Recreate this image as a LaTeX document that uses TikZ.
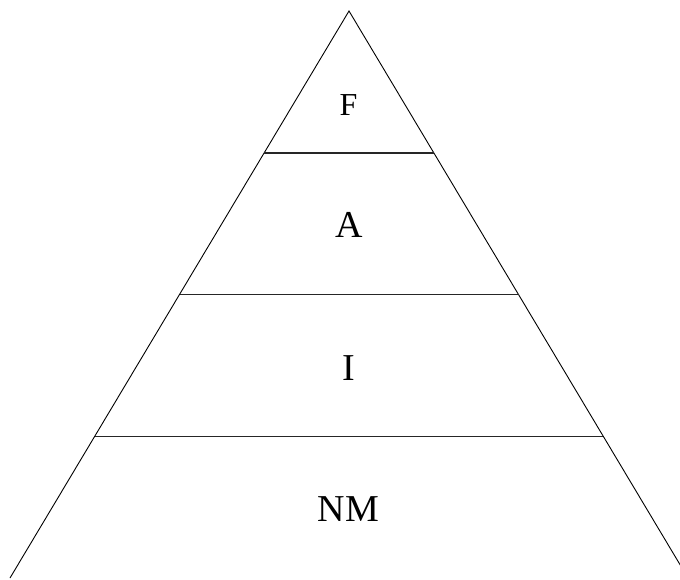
\documentclass[tikz,border=0pt]{standalone}
\usepackage{fontspec}
\setmainfont{Liberation Serif}
\usepackage{tikz}
\usetikzlibrary{calc}
\tikzset{
  pyside/.style={draw=black, line width=0.9pt},
  pylevel/.style={draw=black!85, line width=1.5pt},
  pylabel/.style={inner sep=0pt, font=\fontsize{38}{40}\selectfont},
  pysmall/.style={inner sep=0pt, font=\fontsize{32}{34}\selectfont}
}
\begin{document}
\begin{tikzpicture}[x=1pt, y=-1pt]
  \useasboundingbox (0,0) rectangle (680,579);
  \clip (0,0) rectangle (680,579);
  \coordinate (apex) at (349,11);
  \coordinate (bl) at (10,578);
  \coordinate (br) at (688,578);
  % sides
  \draw[pyside] (bl) -- (apex) -- (br);
  % levels
  \foreach \t/\n in {0.25/one, 0.5/two, 0.75/three} {
    \coordinate (\n l) at ($(apex)!\t!(bl)$);
    \coordinate (\n r) at ($(apex)!\t!(br)$);
    \draw[pylevel] (\n l) -- (\n r);
  }
  % labels
  \node[pysmall] (f) at (348.5,105.5) {F};
  \node[pylabel] (a) at (349.5,224.5) {A};
  \node[pylabel] (i) at (349,368) {I};
  \node[pylabel] (nm) at (348.5,509.5) {NM};
\end{tikzpicture}
\end{document}
